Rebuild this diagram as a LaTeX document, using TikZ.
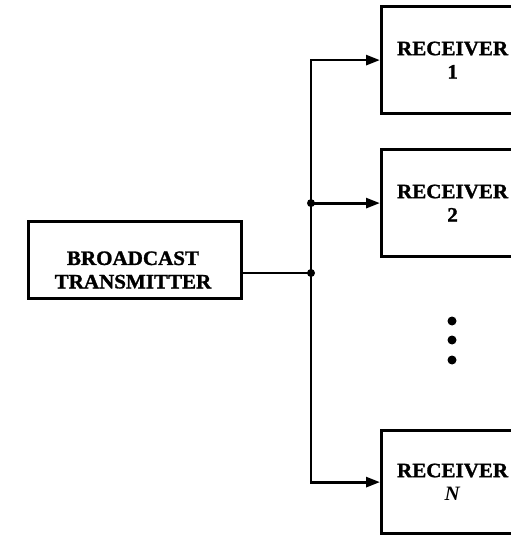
\documentclass[tikz,border=0pt]{standalone}
\usepackage{fontspec}
\setmainfont{Liberation Serif}[FakeStretch=1.03,BoldFeatures={FakeBold=1.3}]
\usetikzlibrary{arrows.meta}
\begin{document}
\begin{tikzpicture}[x=1bp,y=-1bp,
  lbl/.style={align=center,inner sep=0pt,font=\bfseries\fontsize{20.5}{23.5}\selectfont},
  box/.style={draw,line width=3.2bp,inner sep=0pt},
  rx/.style={box,lbl,minimum width=142bp,minimum height=107bp,anchor=north west},
  wire/.style={line width=2.8bp},
  arr/.style={wire,-{Triangle[length=14bp,width=10bp]}},
  jdot/.style={circle,fill,inner sep=0pt,minimum size=8bp},
  edot/.style={circle,fill,inner sep=0pt,minimum size=9bp}]
\useasboundingbox (0,0) rectangle (511,537);
\clip (0,0) rectangle (511,537);
% transmitter
\node[box,minimum width=213bp,minimum height=77bp,anchor=north west] (tx) at (27,220) {};
\node[lbl] (txlbl) at (133,270) {BROADCAST\\TRANSMITTER};
% receivers
\node[rx] (r1) at (380,5) {RECEIVER\\1};
\node[rx] (r2) at (380,148) {RECEIVER\\2};
\node[rx,minimum height=103bp] (rn) at (380,429) {RECEIVER\\\textit{N}};
% ellipsis
\node[edot] (d1) at (452,321) {};
\node[edot] (d2) at (452,340) {};
\node[edot] (d3) at (452,360) {};
% bus
\coordinate (busx) at (311,0);
\coordinate (j1) at (r2.west -| busx);
\coordinate (j2) at (311,273);
\draw[wire] (tx.east |- j2) -- (j2);
\draw[arr] (j1) |- (r1.west);
\draw[wire] (j1) -- (j2);
\draw[arr] (j2) |- (rn.west);
\draw[arr] (j1) -- (r2.west);
\node[jdot] at (j1) {};
\node[jdot] at (j2) {};
\end{tikzpicture}
\end{document}
